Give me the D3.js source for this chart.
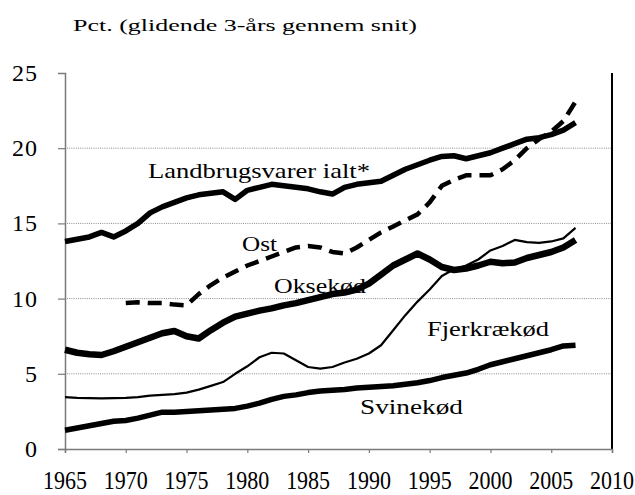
<!DOCTYPE html>
<html>
<head>
<meta charset="utf-8">
<script src="https://cdn.jsdelivr.net/npm/d3@7"></script>
<style>
  html, body { margin: 0; padding: 0; background: #fff; }
  svg { display: block; }
  svg text { font-family: "Liberation Serif", "Tinos", "Times New Roman", Times, "DejaVu Serif", serif; }
</style>
</head>
<body>
<div id="chart"></div>
<script>
// ---- data ----
const years = d3.range(1965, 2008);
const landbrug = [13.8, 13.95, 14.1, 14.4, 14.1, 14.5, 15.0, 15.7, 16.1, 16.4,
  16.7, 16.9, 17.0, 17.1, 16.6, 17.2, 17.4, 17.6, 17.5, 17.4,
  17.3, 17.1, 16.95, 17.4, 17.6, 17.7, 17.8, 18.2, 18.6, 18.9,
  19.2, 19.45, 19.5, 19.3, 19.5, 19.7, 20.0, 20.3, 20.6, 20.7,
  20.9, 21.2, 21.7];
const ostYears = d3.range(1970, 2008);
const ost = [9.7, 9.75, 9.7, 9.7, 9.6, 9.55, 10.3, 10.9, 11.4, 11.8,
  12.2, 12.5, 12.8, 13.1, 13.4, 13.5, 13.4, 13.1, 13.0, 13.4,
  13.9, 14.4, 14.8, 15.2, 15.6, 16.4, 17.5, 17.9, 18.2, 18.2,
  18.2, 18.6, 19.2, 20.0, 20.6, 21.1, 21.8, 23.1];
const okse = [6.6, 6.4, 6.3, 6.25, 6.5, 6.8, 7.1, 7.4, 7.7, 7.85,
  7.5, 7.35, 7.9, 8.4, 8.8, 9.0, 9.2, 9.35, 9.55, 9.7,
  9.9, 10.1, 10.3, 10.4, 10.6, 11.0, 11.6, 12.2, 12.6, 13.0,
  12.6, 12.1, 11.9, 12.0, 12.2, 12.45, 12.35, 12.4, 12.7, 12.9,
  13.1, 13.4, 13.9];
const fjerkrae = [3.45, 3.4, 3.38, 3.37, 3.38, 3.4, 3.45, 3.55, 3.6, 3.65,
  3.75, 3.95, 4.2, 4.45, 5.0, 5.5, 6.1, 6.4, 6.35, 5.9,
  5.45, 5.35, 5.45, 5.75, 6.0, 6.35, 6.9, 7.9, 8.9, 9.8,
  10.6, 11.5, 11.95, 12.2, 12.6, 13.2, 13.5, 13.9, 13.75, 13.7,
  13.8, 14.0, 14.7];
const svine = [1.25, 1.4, 1.55, 1.7, 1.85, 1.9, 2.05, 2.25, 2.45, 2.45,
  2.5, 2.55, 2.6, 2.65, 2.7, 2.85, 3.05, 3.3, 3.5, 3.6,
  3.75, 3.85, 3.9, 3.95, 4.05, 4.1, 4.15, 4.2, 4.3, 4.4,
  4.55, 4.75, 4.9, 5.05, 5.3, 5.6, 5.8, 6.0, 6.2, 6.4,
  6.6, 6.85, 6.9];
const xTicks = [1965, 1970, 1975, 1980, 1985, 1990, 1995, 2000, 2005, 2010];
const yTicks = [0, 5, 10, 15, 20, 25];
const gridValues = [5, 10, 15, 20];
const title = "Pct. (glidende 3-års gennem snit)";
const seriesLabels = ["Landbrugsvarer ialt*", "Ost", "Oksekød", "Fjerkrækød", "Svinekød"];

// ---- drawing ----
const W = 635, H = 495;
const svg = d3.select("#chart").append("svg").attr("width", W).attr("height", H);
svg.append("rect").attr("width", W).attr("height", H).attr("fill", "#fff");

const x = d3.scaleLinear().domain([1965, 2010]).range([65, 612]);
const y = d3.scaleLinear().domain([0, 25]).range([449, 73]);

// title
svg.append("text").attr("x", 73).attr("y", 31)
  .attr("font-size", 17).attr("textLength", 344).attr("lengthAdjust", "spacingAndGlyphs")
  .text(title);

// gridlines
svg.append("g").selectAll("line").data(gridValues).join("line")
  .attr("x1", x(1965) + 2).attr("x2", x(2010))
  .attr("y1", d => y(d)).attr("y2", d => y(d))
  .attr("stroke", "#8a8a8a").attr("stroke-width", 1).attr("stroke-dasharray", "1,1.2");

// right border
svg.append("line").attr("x1", x(2010)).attr("x2", x(2010))
  .attr("y1", y(25)).attr("y2", y(0)).attr("stroke", "#000").attr("stroke-width", 2);

// y axis
const yAxis = svg.append("g").attr("transform", `translate(${x(1965)},0)`)
  .call(d3.axisLeft(y).tickValues(yTicks).tickSize(7).tickFormat(""));
yAxis.select(".domain").attr("stroke", "#7a7a7a").attr("stroke-width", 1.5);
yAxis.selectAll(".tick line").attr("stroke", "#7a7a7a").attr("stroke-width", 1.2)
  .filter(d => d === 25).remove();
svg.append("g").selectAll("text").data(yTicks).join("text")
  .attr("x", 38).attr("y", d => y(d) + 8)
  .attr("text-anchor", "end").attr("font-size", 24).attr("letter-spacing", 1)
  .text(d => d);

// x axis
const xAxis = svg.append("g").attr("transform", `translate(0,${y(0)})`)
  .call(d3.axisBottom(x).tickValues(xTicks).tickSize(4).tickFormat(""));
xAxis.select(".domain").attr("stroke", "#7a7a7a").attr("stroke-width", 1.5);
xAxis.selectAll(".tick line").attr("stroke", "#7a7a7a").attr("stroke-width", 1.2);
svg.append("g").selectAll("text").data(xTicks).join("text")
  .attr("transform", d => `translate(${x(d)},489) scale(1,1.15)`)
  .attr("text-anchor", "middle").attr("font-size", 22)
  .text(d => d);

// lines
const line = d3.line().x(d => x(d[0])).y(d => y(d[1])).curve(d3.curveLinear);
const zip = (xs, vs) => xs.map((yr, i) => [yr, vs[i]]);

const series = [
  { data: zip(years, fjerkrae), w: 2.2, dash: null },
  { data: zip(years, svine), w: 5.5, dash: null },
  { data: zip(years, okse), w: 6.5, dash: null },
  { data: zip(ostYears, ost), w: 4.5, dash: "14,8" },
  { data: zip(years, landbrug), w: 5.5, dash: null }
];
svg.append("g").selectAll("path").data(series).join("path")
  .attr("d", d => line(d.data))
  .attr("fill", "none").attr("stroke", "#000")
  .attr("stroke-width", d => d.w)
  .attr("stroke-linejoin", "round")
  .attr("stroke-dasharray", d => d.dash);

// series labels
const labelPos = [
  { x: 148, y: 178, w: 222 },
  { x: 242, y: 251, w: 35 },
  { x: 274, y: 293, w: 92 },
  { x: 427, y: 336, w: 122 },
  { x: 360, y: 414, w: 103 }
];
svg.append("g").selectAll("text").data(seriesLabels).join("text")
  .attr("x", (d, i) => labelPos[i].x).attr("y", (d, i) => labelPos[i].y)
  .attr("font-size", 21)
  .attr("textLength", (d, i) => labelPos[i].w).attr("lengthAdjust", "spacingAndGlyphs")
  .text(d => d);
</script>
</body>
</html>
